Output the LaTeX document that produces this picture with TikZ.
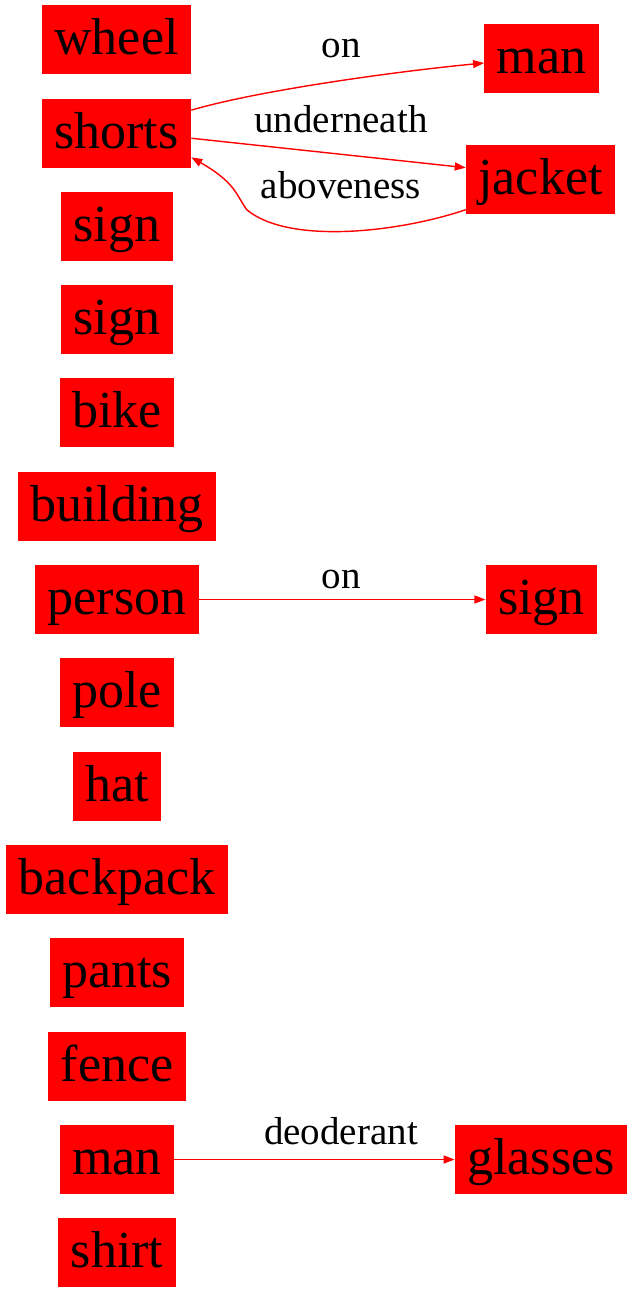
\documentclass[tikz,border=0pt]{standalone}
\usepackage{fontspec}
\setmainfont{Liberation Serif}
\usetikzlibrary{arrows.meta}
\newcommand\nodefnt{\fontsize{52}{52}\selectfont}
\newcommand\labfnt{\fontsize{39}{39}\selectfont}
\tikzset{
  obj/.style={fill=red, draw=none, minimum height=69pt, inner xsep=12.5pt, inner ysep=0pt,
    font=\nodefnt, text height=40pt, text depth=10pt, anchor=center},
  lab/.style={font=\labfnt, inner sep=0pt, anchor=base},
  rel/.style={draw=red, line width=1.4pt, -{Triangle[length=11pt,width=8pt]}}
}
\begin{document}
\begin{tikzpicture}[x=1pt,y=-1pt]
\useasboundingbox (0,0) rectangle (633,1293);
% left column
\node[obj] (wheel) at (116.5,39.5) {wheel};
\node[obj] (shorts) at (116.5,133) {shorts};
\node[obj] (sign1) at (117,226) {sign};
\node[obj] (sign2) at (117,319.5) {sign};
\node[obj] (bike) at (117,412.5) {bike};
\node[obj] (building) at (117,506) {building};
\node[obj] (person) at (117,599.5) {person};
\node[obj] (pole) at (117,692.5) {pole};
\node[obj] (hat) at (117,786) {hat};
\node[obj] (backpack) at (117,879.5) {backpack};
\node[obj] (pants) at (117,972.5) {pants};
\node[obj] (fence) at (117,1066) {fence};
\node[obj] (man1) at (117,1159.5) {man};
\node[obj] (shirt) at (117,1252.5) {shirt};
% right column
\node[obj] (man2) at (541.5,58) {man};
\node[obj] (jacket) at (540.5,179.5) {jacket};
\node[obj] (sign3) at (541.5,599.5) {sign};
\node[obj] (glasses) at (541,1159.5) {glasses};
% labels
\node[lab] (l1) at (341,57) {on};
\node[lab] (l2) at (341,132) {underneath};
\node[lab] (l3) at (341,198) {aboveness};
\node[lab] (l4) at (341,588) {on};
\node[lab] (l5) at (341,1144) {deoderant};
% edges
\draw[rel] (shorts.17) .. controls (260,90) and (400,71) .. (man2.185);
\draw[rel] (shorts.-4.5) -- (jacket.171);
\draw[rel] (jacket.202) .. controls (400,232) and (290,245) .. (247,210)
  .. controls (236,195) and (236,183) .. (shorts.-18);
\draw[rel] (person) -- (sign3);
\draw[rel] (man1) -- (glasses);
\end{tikzpicture}
\end{document}
